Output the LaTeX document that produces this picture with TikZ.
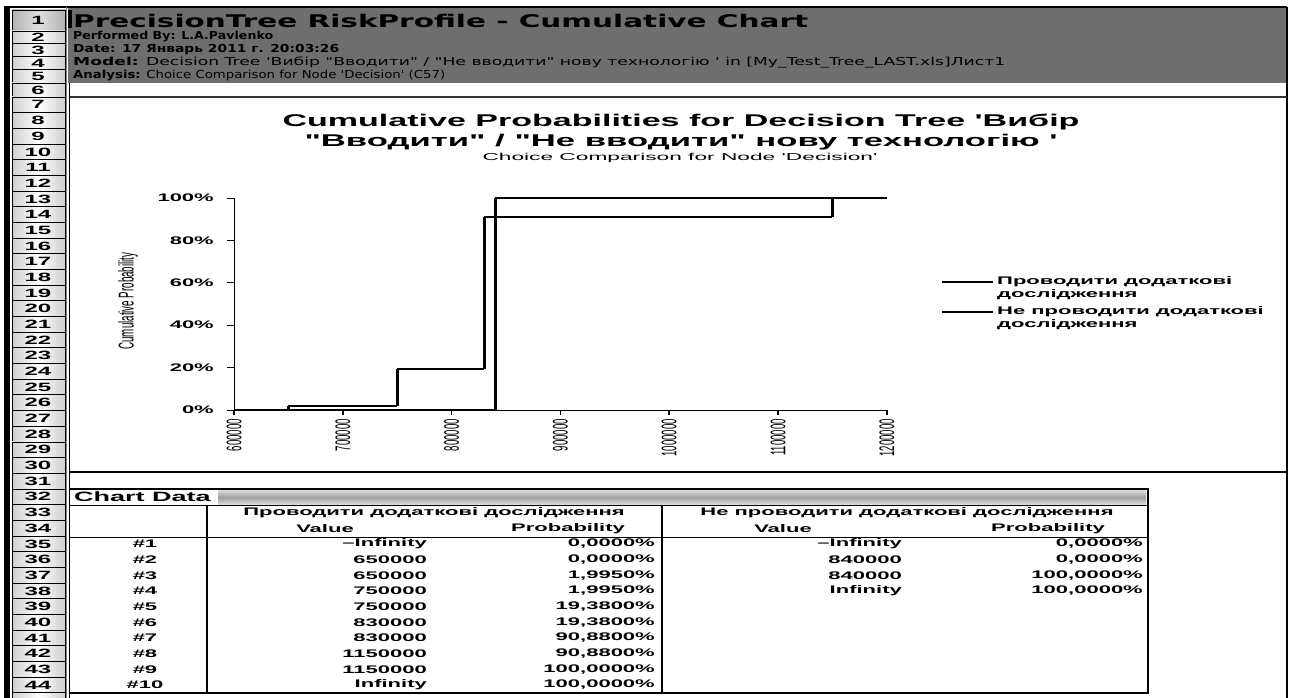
\documentclass[tikz,border=0pt]{standalone}
\usepackage{fontspec}
\setmainfont{Liberation Sans}
\newfontfamily\verd{DejaVu Sans}
\usetikzlibrary{calc}

% stretch a text horizontally to a given width (in pt)
\newsavebox\fitbox
\newdimen\fitdim
\newcommand\fitw[2]{\sbox\fitbox{#2}\fitdim=\wd\fitbox\pgfmathsetmacro\fitr{#1/\fitdim}\scalebox{\fitr}[1]{\usebox\fitbox}}
% the sheet is rendered twice as wide as tall
\newcommand\wide[1]{\scalebox{2}[1]{#1}}
\newcommand\tall[1]{\scalebox{1}[2.2]{#1}}
\newcommand\qs{\textquotesingle}
\newcommand\qd{\textquotedbl}
\definecolor{band}{gray}{0.43}

\begin{document}
\begin{tikzpicture}[x=1pt,y=-1pt,
  declare function={cx(\v)=234+(\v-600)*1.088; cy(\p)=410-2.12*\p;},
  hdr/.style={anchor=west,inner sep=0pt},
  rownum/.style={inner sep=0pt,font=\bfseries\fontsize{12}{12}\selectfont},
  hcell/.style={left color=gray!38,right color=gray!38,middle color=white,draw=black,line width=0.9pt},
  cell/.style={inner sep=0pt,font=\bfseries\fontsize{11}{11}\selectfont},
  ylab/.style={anchor=east,inner sep=0pt,font=\bfseries\fontsize{11}{11}\selectfont},
  xlab/.style={rotate=90,anchor=east,inner sep=0pt,font=\fontsize{9.6}{10}\selectfont},
  legtxt/.style={anchor=west,inner sep=0pt,font=\bfseries\fontsize{11}{11}\selectfont},
  hser/.style={line width=1.7pt,line cap=square},
  vser/.style={line width=3.2pt},
  axisl/.style={line width=1pt},
  legline/.style={line width=1.6pt},
]
\useasboundingbox (0,0) rectangle (1290,698);
\fill[white] (0,0) rectangle (1290,698);

% ---------- header band (rows 1-5)
\fill[band] (68,8) rectangle (1287,83);
\fill[black] (68,10) rectangle (72,28);

\node[hdr] (title) at (73,21) {\fitw{735}{\verd\bfseries\fontsize{17.5}{18}\selectfont PrecisionTree RiskProfile - Cumulative Chart}};
\node[hdr] (author) at (73,37) {\fitw{200}{\verd\bfseries\fontsize{11}{11}\selectfont Performed By: L.A.Pavlenko}};
\node[hdr] (date) at (73,50) {\fitw{266}{\verd\bfseries\fontsize{11}{11}\selectfont Date: 17 Январь 2011 г. 20:03:26}};
\node[hdr] (model) at (73,63) {\fitw{932}{\verd\fontsize{11}{11}\selectfont\bfseries Model:\mdseries{} Decision Tree \qs Вибір \qd Вводити\qd{} / \qd Не вводити\qd{} нову технологію \qs{} in [My\_Test\_Tree\_LAST.xls]Лист1}};
\node[hdr] (analysis) at (73,76) {\fitw{372}{\verd\fontsize{11}{11}\selectfont\bfseries Analysis:\mdseries{} Choice Comparison for Node \qs Decision\qs{} (C57)}};

% ---------- row header column
\fill[black] (4,7) rectangle (10,698);
\draw[line width=1.2pt] (4,7) -- (1287,7);
\shadedraw[hcell,left color=gray!60,right color=gray!60,middle color=gray!25] (12,10) rectangle (65,31);
\node[rownum] (row1) at (38,20.5) {\wide{1}};
\foreach \k/\t/\b in {2/31/43.3,3/43.3/56.5,4/56.5/69.5,5/69.5/83,6/83/97}{
  \shadedraw[hcell] (12,\t) rectangle (65,\b);
  \node[rownum] (row\k) at (38,{(\t+\b)/2}) {\wide{\k}};
}
\foreach \k in {7,...,44}{
  \pgfmathsetmacro\t{97+(\k-7)*15.68}
  \pgfmathsetmacro\b{\t+15.68}
  \shadedraw[hcell] (12,\t) rectangle (65,\b);
  \node[rownum] (row\k) at (38,{(\t+\b)/2}) {\wide{\k}};
}
\shadedraw[hcell] (12,692.8) rectangle (65,712);
\draw[gray,line width=1pt] (66.5,7) -- (66.5,698);
\draw[black,line width=1.3pt] (69.5,83) -- (69.5,698);
\draw[black,line width=2pt] (1287,7) -- (1287,698);

% ---------- chart area (rows 7-30)
\draw[line width=1.4pt,black!80] (69.5,97) -- (1287,97);
\draw[line width=1.8pt] (69.5,472) -- (1287,472);

\node (ctitle1) at (681,122) {\fitw{797}{\bfseries\fontsize{17}{17}\selectfont Cumulative Probabilities for Decision Tree \qs Вибір}};
\node (ctitle2) at (681,142) {\fitw{753}{\bfseries\fontsize{17}{17}\selectfont \qd Вводити\qd{} / \qd Не вводити\qd{} нову технологію \qs}};
\node (csub) at (680,158) {\fitw{395}{\fontsize{10}{10}\selectfont Choice Comparison for Node \qs Decision\qs}};

% axes
\draw[axisl] ({cx(600)},{cy(100)}) -- ({cx(600)},{cy(0)}) -- ({cx(1200)},{cy(0)});
\foreach \p in {0,20,...,100}{
  \draw[axisl] (227,{cy(\p)}) -- ({cx(600)},{cy(\p)});
  \node[ylab] (ylab\p) at (214,{cy(\p)}) {\wide{\p\%}};
}
\foreach \v in {600,700,...,1200}{
  \draw[line width=1.6pt] ({cx(\v)},{cy(0)}) -- ({cx(\v)},415);
  \node[xlab] (xlab\v) at ({cx(\v)},419) {\tall{\v000}};
}
\node[rotate=90,inner sep=0pt] (ytitle) at (128,301) {\tall{\fontsize{9.75}{10}\selectfont Cumulative Probability}};

% series: horizontal runs, then vertical steps (drawn wider)
\draw[hser] ({cx(600)},{cy(0)}) -- ({cx(650)},{cy(0)});
\draw[hser] ({cx(650)},{cy(1.995)}) -- ({cx(750)},{cy(1.995)});
\draw[hser] ({cx(750)},{cy(19.38)}) -- ({cx(830)},{cy(19.38)});
\draw[hser] ({cx(830)},{cy(90.88)}) -- ({cx(1150)},{cy(90.88)});
\draw[hser] ({cx(1150)},{cy(100)}) -- ({cx(1200)},{cy(100)});
\draw[vser] ({cx(650)},{cy(0)}) -- ({cx(650)},{cy(1.995)});
\draw[vser] ({cx(750)},{cy(1.995)}) -- ({cx(750)},{cy(19.38)});
\draw[vser] ({cx(830)},{cy(19.38)}) -- ({cx(830)},{cy(90.88)});
\draw[vser] ({cx(1150)},{cy(90.88)}) -- ({cx(1150)},{cy(100)});
\draw[hser] ({cx(600)},{cy(0)}) -- ({cx(840)},{cy(0)});
\draw[hser] ({cx(840)},{cy(100)}) -- ({cx(1200)},{cy(100)});
\draw[vser] ({cx(840)},{cy(0)}) -- ({cx(840)},{cy(100)});

% legend
\coordinate (lgA1) at (942,282); \coordinate (lgA2) at (993,282);
\coordinate (lgB1) at (942,312); \coordinate (lgB2) at (993,312);
\draw[legline] (lgA1) -- (lgA2);
\draw[legline] (lgB1) -- (lgB2);
\node[legtxt] (legA) at (997,282) {\wide{Проводити додаткові}};
\node[legtxt] (legA2) at (997,295) {\wide{дослідження}};
\node[legtxt] (legB) at (997,312) {\wide{Не проводити додаткові}};
\node[legtxt] (legB2) at (997,325) {\wide{дослідження}};

% ---------- chart data table (rows 32-44)
\shade[top color=gray!30,bottom color=gray!30,middle color=gray!75] (218,490.5) rectangle (1146,504);
\node[anchor=west,inner sep=0pt,font=\bfseries\fontsize{13.5}{14}\selectfont] (cdata) at (74,497) {\wide{Chart Data}};
\draw[line width=1.8pt] (69.5,489) -- (1148,489);
\draw[line width=2.6pt] (1148,488) -- (1148,694);
\draw[line width=1.8pt] (69.5,693) -- (1148,693);
\draw[line width=1pt] (69.5,505) -- (1148,505);
\draw[line width=1pt] (69.5,537.5) -- (1148,537.5);
\draw[line width=2pt] (207,505) -- (207,693);
\draw[line width=2pt] (662,505) -- (662,693);

\node[cell] (grpA) at (434,512.5) {\wide{Проводити додаткові дослідження}};
\node[cell] (grpB) at (907,512.5) {\wide{Не проводити додаткові дослідження}};
\node[cell] (valA) at (325,528.5) {\wide{Value}};
\node[cell] (prbA) at (568,528.5) {\wide{Probability}};
\node[cell] (valB) at (783,528.5) {\wide{Value}};
\node[cell] (prbB) at (1048,528.5) {\wide{Probability}};

\foreach \r/\va/\pa in {35/{–Infinity}/{0,0000\%},36/{650000}/{0,0000\%},37/{650000}/{1,9950\%},
    38/{750000}/{1,9950\%},39/{750000}/{19,3800\%},40/{830000}/{19,3800\%},41/{830000}/{90,8800\%},
    42/{1150000}/{90,8800\%},43/{1150000}/{100,0000\%},44/{Infinity}/{100,0000\%}}{
  \pgfmathsetmacro\yy{104.84+(\r-7)*15.68}
  \pgfmathtruncatemacro\nn{\r-34}
  \node[cell] (idx\nn) at (145,\yy) {\wide{\#\nn}};
  \node[cell,anchor=east] (va\nn) at (427,\yy) {\wide{\va}};
  \node[cell,anchor=east] (pa\nn) at (655,\yy) {\wide{\pa}};
}
\foreach \r/\vb/\pb in {35/{–Infinity}/{0,0000\%},36/{840000}/{0,0000\%},37/{840000}/{100,0000\%},38/{Infinity}/{100,0000\%}}{
  \pgfmathsetmacro\yy{104.84+(\r-7)*15.68}
  \pgfmathtruncatemacro\nn{\r-34}
  \node[cell,anchor=east] (vb\nn) at (902,\yy) {\wide{\vb}};
  \node[cell,anchor=east] (pb\nn) at (1143,\yy) {\wide{\pb}};
}
\end{tikzpicture}
\end{document}
